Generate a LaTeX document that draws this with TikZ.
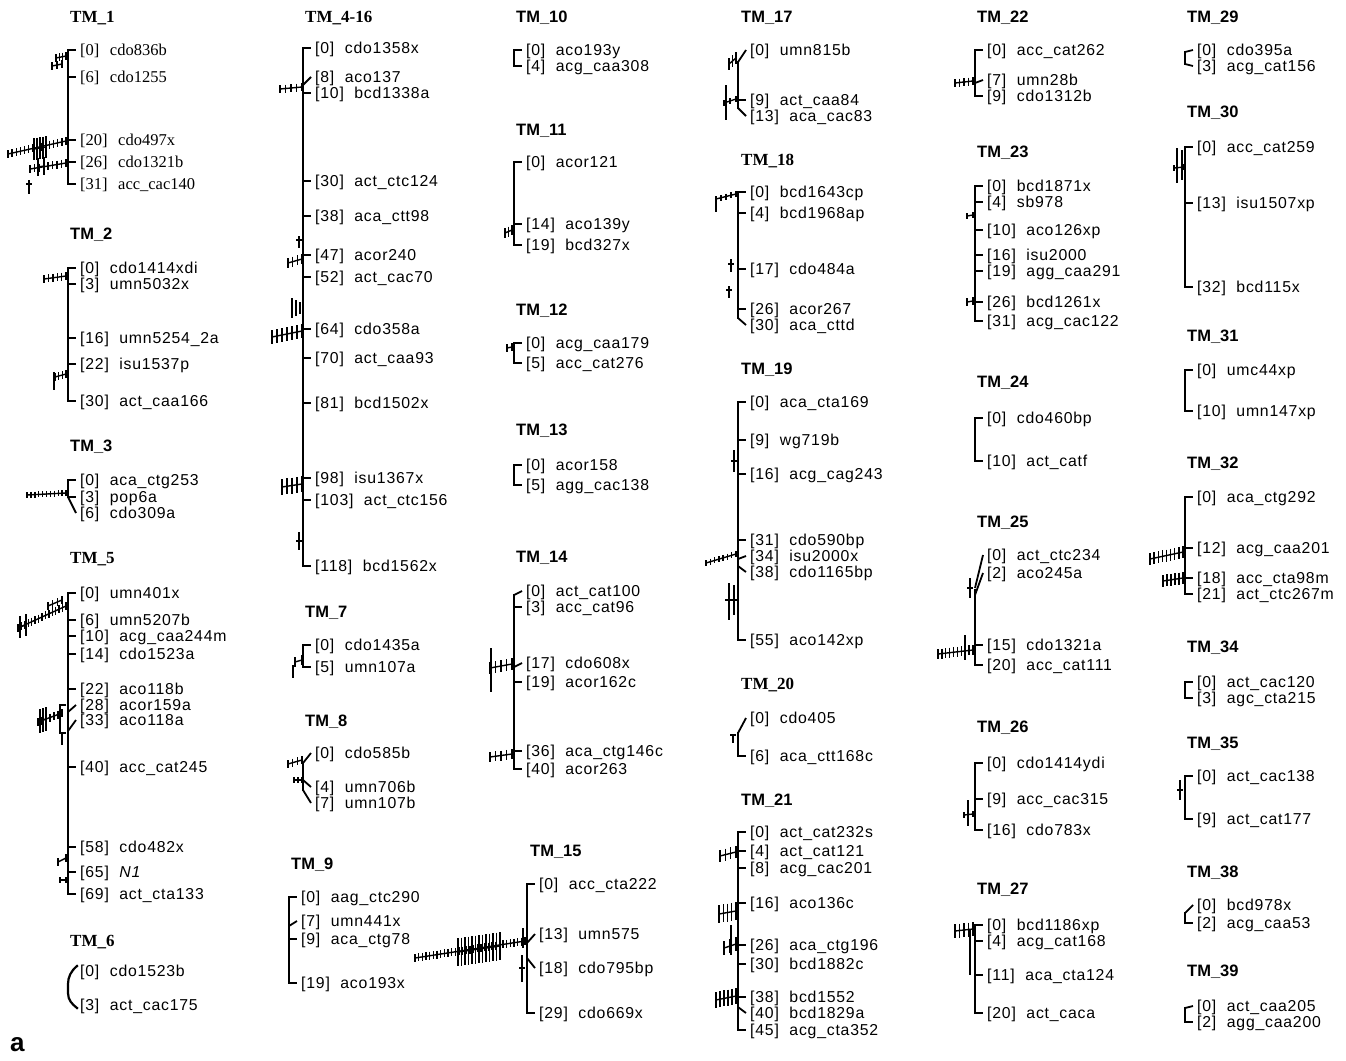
\documentclass[tikz,border=0pt]{standalone}
\usepackage{fontspec}
\setmainfont{Liberation Sans}
\newfontfamily\labsans[LetterSpace=5]{Liberation Sans}
\newfontfamily\labserif{Liberation Serif}
\newfontfamily\ttlserif{Liberation Serif}
\newcounter{mkc}
\def\labfont{\labsans\fontsize{15.8}{17}\selectfont}
\tikzset{
  bar/.style={line width=2.2pt, line cap=rect},
  tk/.style={line width=1.8pt},
  qt/.style={line width=1.4pt},
  lab/.style={anchor=west, inner sep=0pt, font=\labfont, text height=13pt, text depth=2pt},
  ttls/.style={anchor=west, inner sep=0pt, yshift=-2pt, font=\bfseries\fontsize{16.5}{18}\selectfont},
  ttlr/.style={anchor=west, inner sep=0pt, yshift=-2pt, font=\ttlserif\bfseries\fontsize{17}{18}\selectfont}
}
% bx, ybar, ylab, num, name
\newcommand\mk[5]{%
  \draw[tk] (#1,#2) -- ({#1+8},#3);
  \stepcounter{mkc}%
  \node[lab] (m\arabic{mkc}) at ({#1+12},#3) {[#4]\hspace{10.5pt}#5};
}
% QTL profile: x1 y1 x2 y2 n halfheight
\newcommand\qr[6]{%
  \draw[qt] (#1,#2) -- (#3,#4);
  \foreach \i in {0,...,#5}{%
    \pgfmathsetmacro\qx{#1+(#3-#1)*\i/#5}%
    \pgfmathsetmacro\qy{#2+(#4-#2)*\i/#5}%
    \draw[qt] (\qx,\qy-#6) -- (\qx,\qy+#6);
  }%
}
\begin{document}
\begin{tikzpicture}[x=1pt,y=-1pt]
\useasboundingbox (0,0) rectangle (1346,1060);

% ================= Column 1 =================
\node[ttlr] (t1) at (70,16) {TM\_1};
\draw[bar] (68,50) -- (68,184);
\begin{scope}
\def\labfont{\labserif\fontsize{16.5}{18}\selectfont}
\mk{68}{50}{50}{0}{cdo836b}
\mk{68}{77}{77}{6}{cdo1255}
\mk{68}{140}{140}{20}{cdo497x}
\mk{68}{162}{162}{26}{cdo1321b}
\mk{68}{184}{184}{31}{acc\_cac140}
\end{scope}
\qr{56}{58}{66}{56}{3}{4}
\qr{52}{66}{62}{64}{2}{4}
\qr{8}{154}{66}{141}{14}{4}
\qr{34}{149}{46}{147}{4}{11}
\qr{30}{169}{66}{163}{8}{4}
\qr{38}{167}{44}{166}{1}{9}
\draw[qt] (29,180) -- (29,194) (26,184) -- (32,184);

\node[ttls] (t2) at (70,233) {TM\_2};
\draw[bar] (68,268) -- (68,401);
\mk{68}{268}{268}{0}{cdo1414xdi}
\mk{68}{284}{284}{3}{umn5032x}
\mk{68}{338}{338}{16}{umn5254\_2a}
\mk{68}{364}{364}{22}{isu1537p}
\mk{68}{401}{401}{30}{act\_caa166}
\qr{44}{279}{66}{276}{5}{4}
\qr{55}{377}{66}{374}{3}{4}
\draw[qt] (54,372) -- (54,390);

\node[ttls] (t3) at (70,445) {TM\_3};
\draw[bar] (68,480) -- (68,497);
\mk{68}{480}{480}{0}{aca\_ctg253}
\mk{68}{497}{497}{3}{pop6a}
\mk{68}{497}{513}{6}{cdo309a}
\qr{27}{495}{66}{493}{10}{3}

\node[ttlr] (t5) at (70,557) {TM\_5};
\draw[bar] (68,593) -- (68,894);
\mk{68}{593}{593}{0}{umn401x}
\mk{68}{620}{620}{6}{umn5207b}
\mk{68}{636}{636}{10}{acg\_caa244m}
\mk{68}{654}{654}{14}{cdo1523a}
\mk{68}{689}{689}{22}{aco118b}
\mk{68}{712}{705}{28}{acor159a}
\mk{68}{731}{720}{33}{aco118a}
\mk{68}{767}{767}{40}{acc\_cat245}
\mk{68}{847}{847}{58}{cdo482x}
\mk{68}{872}{872}{65}{\textit{N1}}
\mk{68}{894}{894}{69}{act\_cta133}
\qr{18}{628}{66}{606}{14}{4}
\qr{20}{627}{26}{625}{1}{11}
\qr{48}{606}{62}{600}{3}{4}
\qr{38}{722}{62}{713}{6}{4}
\qr{40}{721}{46}{719}{2}{12}
\draw[qt] (66,705) -- (60,705) -- (60,733) -- (66,733);
\draw[qt] (62,733) -- (62,745);
\qr{58}{862}{66}{858}{1}{4}
\qr{60}{880}{66}{880}{1}{3}

\node[ttlr] (t6) at (70,940) {TM\_6};
\draw[bar] (77,966) .. controls (71,971) and (68,977) .. (68,984) -- (68,993) .. controls (68,1000) and (72,1004) .. (77,1008);
\node[lab] (m6a) at (80,971) {[0]\hspace{10.5pt}cdo1523b};
\node[lab] (m6b) at (80,1005) {[3]\hspace{10.5pt}act\_cac175};

\node[anchor=west, inner sep=0pt, font=\bfseries\fontsize{26}{28}\selectfont] (panel) at (10,1045) {a};

% ================= Column 2 =================
\node[ttlr] (t416) at (305,16) {TM\_4-16};
\draw[bar] (303,48) -- (303,566);
\mk{303}{48}{48}{0}{cdo1358x}
\mk{303}{85}{77}{8}{aco137}
\mk{303}{93}{93}{10}{bcd1338a}
\mk{303}{181}{181}{30}{act\_ctc124}
\mk{303}{216}{216}{38}{aca\_ctt98}
\mk{303}{255}{255}{47}{acor240}
\mk{303}{277}{277}{52}{act\_cac70}
\mk{303}{329}{329}{64}{cdo358a}
\mk{303}{358}{358}{70}{act\_caa93}
\mk{303}{403}{403}{81}{bcd1502x}
\mk{303}{478}{478}{98}{isu1367x}
\mk{303}{500}{500}{103}{act\_ctc156}
\mk{303}{566}{566}{118}{bcd1562x}
\qr{280}{89}{302}{87}{4}{4}
\draw[qt] (299,236) -- (299,248) (296,240) -- (302,240);
\qr{288}{263}{302}{259}{3}{5}
\draw[qt] (292,298) -- (292,318) (296,300) -- (296,316) (300,302) -- (300,314);
\qr{272}{337}{302}{331}{6}{7}
\qr{282}{487}{302}{484}{4}{8}
\draw[qt] (299,532) -- (299,550) (296,541) -- (302,541);

\node[ttls] (t7) at (305,611) {TM\_7};
\draw[bar] (303,645) -- (303,667);
\mk{303}{645}{645}{0}{cdo1435a}
\mk{303}{667}{667}{5}{umn107a}
\qr{295}{662}{302}{660}{1}{5}
\draw[qt] (293,665) -- (293,678);

\node[ttls] (t8) at (305,720) {TM\_8};
\draw[bar] (303,763) -- (303,790);
\mk{303}{763}{753}{0}{cdo585b}
\mk{303}{780}{787}{4}{umn706b}
\mk{303}{790}{803}{7}{umn107b}
\qr{288}{764}{302}{760}{3}{4}
\qr{294}{780}{302}{780}{2}{3}

\node[ttls] (t9) at (291,863) {TM\_9};
\draw[bar] (289,897) -- (289,983);
\mk{289}{897}{897}{0}{aag\_ctc290}
\mk{289}{926}{921}{7}{umn441x}
\mk{289}{939}{939}{9}{aca\_ctg78}
\mk{289}{983}{983}{19}{aco193x}

% ================= Column 3 =================
\node[ttls] (t10) at (516,16) {TM\_10};
\draw[bar] (514,50) -- (514,66);
\mk{514}{50}{50}{0}{aco193y}
\mk{514}{66}{66}{4}{acg\_caa308}

\node[ttls] (t11) at (516,129) {TM\_11};
\draw[bar] (514,162) -- (514,245);
\mk{514}{162}{162}{0}{acor121}
\mk{514}{224}{224}{14}{aco139y}
\mk{514}{245}{245}{19}{bcd327x}
\qr{505}{233}{512}{230}{2}{5}

\node[ttls] (t12) at (516,309) {TM\_12};
\draw[bar] (514,343) -- (514,363);
\mk{514}{343}{343}{0}{acg\_caa179}
\mk{514}{363}{363}{5}{acc\_cat276}
\qr{507}{348}{512}{347}{1}{4}

\node[ttls] (t13) at (516,429) {TM\_13};
\draw[bar] (514,465) -- (514,485);
\mk{514}{465}{465}{0}{acor158}
\mk{514}{485}{485}{5}{agg\_cac138}

\node[ttls] (t14) at (516,556) {TM\_14};
\draw[bar] (514,595) -- (514,769);
\mk{514}{595}{591}{0}{act\_cat100}
\mk{514}{607}{607}{3}{acc\_cat96}
\mk{514}{667}{663}{17}{cdo608x}
\mk{514}{682}{682}{19}{acor162c}
\mk{514}{751}{751}{36}{aca\_ctg146c}
\mk{514}{769}{769}{40}{acor263}
\draw[qt] (491,648) -- (491,692);
\qr{490}{668}{512}{664}{4}{6}
\qr{490}{757}{512}{754}{4}{5}

\node[ttls] (t15) at (530,850) {TM\_15};
\draw[bar] (527,884) -- (527,1013);
\mk{527}{884}{884}{0}{acc\_cta222}
\mk{527}{943}{934}{13}{umn575}
\mk{527}{958}{968}{18}{cdo795bp}
\mk{527}{1013}{1013}{29}{cdo669x}
\qr{415}{958}{525}{941}{30}{4}
\qr{458}{952}{500}{946}{12}{14}
\draw[qt] (523,928) -- (523,948);
\draw[qt] (522,955) -- (522,982) (519,968) -- (525,968);

% ================= Column 4 =================
\node[ttls] (t17) at (741,16) {TM\_17};
\draw[bar] (738,62) -- (738,108);
\mk{738}{62}{50}{0}{umn815b}
\mk{738}{100}{100}{9}{act\_caa84}
\mk{738}{108}{116}{13}{aca\_cac83}
\qr{729}{64}{736}{58}{2}{6}
\draw[qt] (726,85) -- (726,120);
\qr{724}{103}{736}{99}{2}{3}

\node[ttlr] (t18) at (741,159) {TM\_18};
\draw[bar] (738,192) -- (738,318);
\mk{738}{192}{192}{0}{bcd1643cp}
\mk{738}{213}{213}{4}{bcd1968ap}
\mk{738}{269}{269}{17}{cdo484a}
\mk{738}{309}{309}{26}{acor267}
\mk{738}{318}{325}{30}{aca\_cttd}
\qr{716}{199}{736}{194}{4}{3}
\draw[qt] (716,199) -- (716,212);
\draw[qt] (731,259) -- (731,272) (728,264) -- (734,264);
\draw[qt] (729,286) -- (729,298) (726,290) -- (732,290);

\node[ttls] (t19) at (741,368) {TM\_19};
\draw[bar] (738,402) -- (738,640);
\mk{738}{402}{402}{0}{aca\_cta169}
\mk{738}{440}{440}{9}{wg719b}
\mk{738}{474}{474}{16}{acg\_cag243}
\mk{738}{540}{540}{31}{cdo590bp}
\mk{738}{559}{556}{34}{isu2000x}
\mk{738}{566}{572}{38}{cdo1165bp}
\mk{738}{640}{640}{55}{aco142xp}
\draw[qt] (734,450) -- (734,472) (731,461) -- (737,461);
\qr{706}{563}{736}{554}{7}{3}
\draw[qt] (729,583) -- (729,620) (734,585) -- (734,615) (725,600) -- (737,600);

\node[ttlr] (t20) at (741,683) {TM\_20};
\draw[bar] (738,733) -- (738,756);
\mk{738}{733}{718}{0}{cdo405}
\mk{738}{756}{756}{6}{aca\_ctt168c}
\draw[qt] (733,735) -- (733,743) (730,735) -- (736,735);

\node[ttls] (t21) at (741,799) {TM\_21};
\draw[bar] (738,832) -- (738,1030);
\mk{738}{832}{832}{0}{act\_cat232s}
\mk{738}{851}{851}{4}{act\_cat121}
\mk{738}{868}{868}{8}{acg\_cac201}
\mk{738}{903}{903}{16}{aco136c}
\mk{738}{945}{945}{26}{aca\_ctg196}
\mk{738}{964}{964}{30}{bcd1882c}
\mk{738}{997}{997}{38}{bcd1552}
\mk{738}{1007}{1013}{40}{bcd1829a}
\mk{738}{1030}{1030}{45}{acg\_cta352}
\qr{720}{856}{736}{852}{3}{6}
\qr{719}{914}{736}{911}{4}{9}
\qr{724}{948}{736}{944}{2}{7}
\draw[qt] (731,925) -- (731,955);
\qr{716}{1000}{736}{996}{5}{8}

% ================= Column 5 =================
\node[ttls] (t22) at (977,16) {TM\_22};
\draw[bar] (975,50) -- (975,96);
\mk{975}{50}{50}{0}{acc\_cat262}
\mk{975}{83}{80}{7}{umn28b}
\mk{975}{96}{96}{9}{cdo1312b}
\qr{955}{83}{973}{81}{4}{4}

\node[ttls] (t23) at (977,151) {TM\_23};
\draw[bar] (975,186) -- (975,321);
\mk{975}{186}{186}{0}{bcd1871x}
\mk{975}{202}{202}{4}{sb978}
\mk{975}{230}{230}{10}{aco126xp}
\mk{975}{255}{255}{16}{isu2000}
\mk{975}{271}{271}{19}{agg\_caa291}
\mk{975}{302}{302}{26}{bcd1261x}
\mk{975}{321}{321}{31}{acg\_cac122}
\qr{967}{216}{973}{215}{1}{3}
\qr{967}{302}{973}{301}{1}{4}

\node[ttls] (t24) at (977,381) {TM\_24};
\draw[bar] (975,418) -- (975,461);
\mk{975}{418}{418}{0}{cdo460bp}
\mk{975}{461}{461}{10}{act\_catf}

\node[ttls] (t25) at (977,521) {TM\_25};
\draw[bar] (975,590) -- (975,665);
\mk{975}{588}{555}{0}{act\_ctc234}
\mk{975}{595}{573}{2}{aco245a}
\mk{975}{645}{645}{15}{cdo1321a}
\mk{975}{665}{665}{20}{acc\_cat111}
\draw[qt] (970,578) -- (970,598) (967,588) -- (973,588);
\qr{938}{654}{973}{650}{9}{5}
\draw[qt] (965,635) -- (965,660);

\node[ttls] (t26) at (977,726) {TM\_26};
\draw[bar] (975,763) -- (975,830);
\mk{975}{763}{763}{0}{cdo1414ydi}
\mk{975}{799}{799}{9}{acc\_cac315}
\mk{975}{830}{830}{16}{cdo783x}
\draw[qt] (968,800) -- (968,826);
\qr{964}{815}{973}{814}{1}{3}

\node[ttls] (t27) at (977,888) {TM\_27};
\draw[bar] (975,925) -- (975,1013);
\mk{975}{925}{925}{0}{bcd1186xp}
\mk{975}{941}{941}{4}{acg\_cat168}
\mk{975}{975}{975}{11}{aca\_cta124}
\mk{975}{1013}{1013}{20}{act\_caca}
\qr{955}{931}{973}{929}{4}{7}
\draw[qt] (970,930) -- (970,975);

% ================= Column 6 =================
\node[ttls] (t29) at (1187,16) {TM\_29};
\draw[bar] (1185,52) -- (1185,64);
\mk{1185}{52}{50}{0}{cdo395a}
\mk{1185}{64}{66}{3}{acg\_cat156}

\node[ttls] (t30) at (1187,111) {TM\_30};
\draw[bar] (1185,147) -- (1185,287);
\mk{1185}{147}{147}{0}{acc\_cat259}
\mk{1185}{203}{203}{13}{isu1507xp}
\mk{1185}{287}{287}{32}{bcd115x}
\draw[qt] (1177,148) -- (1177,183) (1182,150) -- (1182,180);
\qr{1174}{168}{1184}{167}{1}{3}

\node[ttls] (t31) at (1187,335) {TM\_31};
\draw[bar] (1185,370) -- (1185,411);
\mk{1185}{370}{370}{0}{umc44xp}
\mk{1185}{411}{411}{10}{umn147xp}

\node[ttls] (t32) at (1187,462) {TM\_32};
\draw[bar] (1185,497) -- (1185,594);
\mk{1185}{497}{497}{0}{aca\_ctg292}
\mk{1185}{548}{548}{12}{acg\_caa201}
\mk{1185}{578}{578}{18}{acc\_cta98m}
\mk{1185}{594}{594}{21}{act\_ctc267m}
\qr{1150}{559}{1183}{552}{8}{6}
\qr{1163}{581}{1183}{578}{5}{6}

\node[ttls] (t34) at (1187,646) {TM\_34};
\draw[bar] (1185,682) -- (1185,698);
\mk{1185}{682}{682}{0}{act\_cac120}
\mk{1185}{698}{698}{3}{agc\_cta215}

\node[ttls] (t35) at (1187,742) {TM\_35};
\draw[bar] (1185,776) -- (1185,819);
\mk{1185}{776}{776}{0}{act\_cac138}
\mk{1185}{819}{819}{9}{act\_cat177}
\draw[qt] (1180,780) -- (1180,800) (1177,790) -- (1183,790);

\node[ttls] (t38) at (1187,871) {TM\_38};
\draw[bar] (1185,913) -- (1185,923);
\mk{1185}{913}{905}{0}{bcd978x}
\mk{1185}{923}{923}{2}{acg\_caa53}

\node[ttls] (t39) at (1187,970) {TM\_39};
\draw[bar] (1185,1008) -- (1185,1022);
\mk{1185}{1008}{1006}{0}{act\_caa205}
\mk{1185}{1022}{1022}{2}{agg\_caa200}

\end{tikzpicture}
\end{document}
